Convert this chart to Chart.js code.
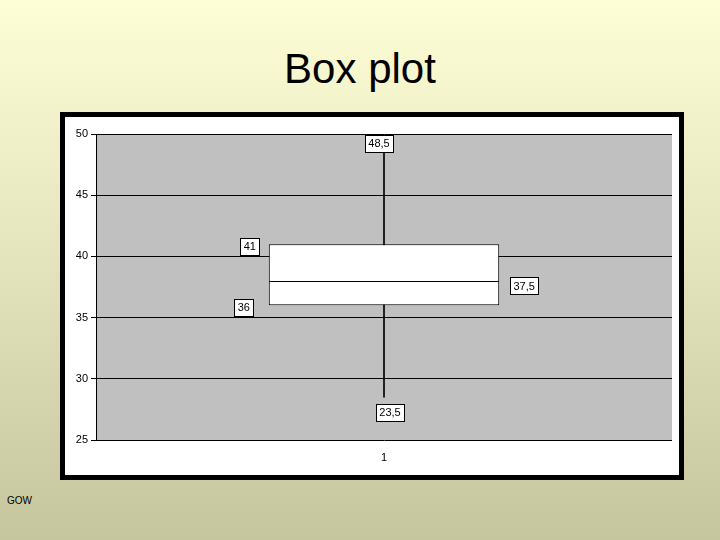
<!DOCTYPE html>
<html>
<head>
<meta charset="utf-8">
<script src="https://cdn.jsdelivr.net/npm/chart.js@4"></script>
<style>
  html, body { margin: 0; padding: 0; }
  body {
    width: 720px; height: 540px; position: relative; overflow: hidden;
    background: linear-gradient(to bottom, #fdfdd6 0%, #e6e6be 45%, #c5c59e 100%);
    font-family: "Liberation Sans", Arial, sans-serif;
  }
  #title {
    position: absolute; left: 0; top: 48px; width: 720px; text-align: center;
    font-size: 42px; line-height: 42px; color: #000;
  }
  #frame {
    position: absolute; left: 60px; top: 112px; width: 624px; height: 368px;
    box-sizing: border-box; border: 5px solid #000; background: #fff;
  }
  #frame canvas { display: block; }
  #footer {
    position: absolute; left: 7px; top: 495px; font-size: 10px; color: #000;
  }
</style>
</head>
<body>
<div id="title">Box plot</div>
<div id="frame"><canvas id="boxplot" width="614" height="358"></canvas></div>
<div id="footer">GOW</div>
<script>
// values
const categories = ['1'];
const q1 = 36;
const median = 38;
const q3 = 41;
const whiskerLow = 28.5;
const whiskerHigh = 48.5;
// data label texts as they are printed on the chart
const labelTexts = ['48,5', '41', '37,5', '36', '23,5'];
const yTicks = [25, 50, 5]; // min, max, step

// grey plot area
const plotBg = {
  id: 'plotBg',
  beforeDraw(chart) {
    const a = chart.chartArea;
    const ctx = chart.ctx;
    ctx.save();
    ctx.fillStyle = '#c0c0c0';
    ctx.fillRect(a.left, a.top, a.right - a.left, a.bottom - a.top);
    ctx.restore();
  }
};

// boxed data labels placed around the box and whiskers
const boxLabels = {
  id: 'boxLabels',
  afterDatasetsDraw(chart) {
    const ctx = chart.ctx;
    const y = chart.scales.y;
    const bar = chart.getDatasetMeta(0).data[0];
    const cx = bar.x;
    const left = bar.x - bar.width / 2;
    const right = bar.x + bar.width / 2;
    const spots = [
      [cx - 5, y.getPixelForValue(whiskerHigh) - 9],
      [left - 19, y.getPixelForValue(q3) + 2],
      [right + 25, y.getPixelForValue(median) + 5],
      [left - 25, y.getPixelForValue(q1) + 2],
      [cx + 6, y.getPixelForValue(whiskerLow) + 15]
    ];
    ctx.save();
    ctx.font = '11px "Liberation Sans", Arial, sans-serif';
    ctx.textAlign = 'center';
    ctx.textBaseline = 'middle';
    labelTexts.forEach((t, i) => {
      const [px, py] = spots[i];
      const w = Math.round(ctx.measureText(t).width) + 7;
      const h = 17;
      const x0 = Math.round(px - w / 2) + 0.5;
      const y0 = Math.round(py - h / 2) + 0.5;
      ctx.fillStyle = '#fff';
      ctx.fillRect(x0, y0, w, h);
      ctx.strokeStyle = '#000';
      ctx.lineWidth = 1;
      ctx.strokeRect(x0, y0, w, h);
      ctx.fillStyle = '#000';
      ctx.fillText(t, px, py + 1);
    });
    ctx.restore();
  }
};

const boxStyle = {
  backgroundColor: '#ffffff',
  borderColor: '#000000',
  borderWidth: 1,
  barPercentage: 0.4,
  categoryPercentage: 1
};

new Chart(document.getElementById('boxplot'), {
  type: 'bar',
  data: {
    labels: categories,
    datasets: [
      Object.assign({ label: 'lower box', data: [[q1, median]], borderSkipped: false }, boxStyle),
      Object.assign({ label: 'upper box', data: [[median, q3]], borderSkipped: 'start' }, boxStyle),
      {
        label: 'whisker',
        data: [[whiskerLow, whiskerHigh]],
        backgroundColor: '#000000',
        borderWidth: 0,
        barThickness: 1
      }
    ]
  },
  options: {
    responsive: false,
    animation: false,
    layout: { padding: { left: 0, top: 17, right: 7, bottom: 0 } },
    datasets: { bar: { grouped: false } },
    plugins: {
      legend: { display: false },
      tooltip: { enabled: false },
      title: { display: false }
    },
    scales: {
      x: {
        grid: { display: false },
        border: { display: false },
        ticks: {
          color: '#000',
          padding: 3,
          font: { family: '"Liberation Sans", Arial, sans-serif', size: 11 }
        },
        afterFit(s) { s.height = 35; }
      },
      y: {
        min: yTicks[0],
        max: yTicks[1],
        ticks: {
          stepSize: yTicks[2],
          color: '#000',
          padding: 3,
          font: { family: '"Liberation Sans", Arial, sans-serif', size: 11 }
        },
        grid: { color: '#000', lineWidth: 1, tickLength: 5, drawTicks: true },
        border: { display: true, color: '#000', width: 1 },
        afterFit(s) { s.width = 31; }
      }
    }
  },
  plugins: [plotBg, boxLabels]
});
</script>
</body>
</html>
